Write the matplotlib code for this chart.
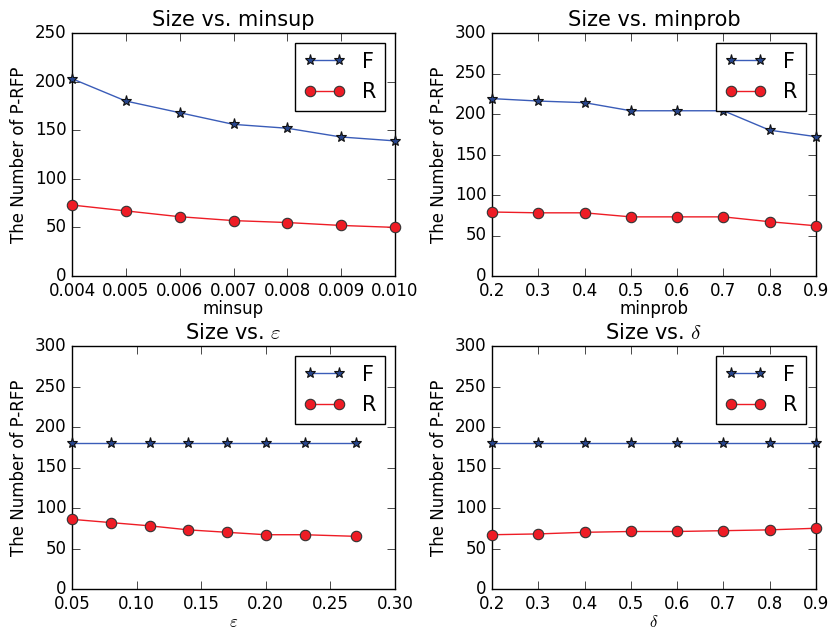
import matplotlib
matplotlib.use("Agg")
import matplotlib.pyplot as plt
import matplotlib.ticker as mticker

plt.style.use('classic')
plt.rcParams['font.family'] = ['DejaVu Sans']
plt.rcParams['mathtext.fontset'] = 'cm'

# Panel 1: Size vs. minsup
minsup = [0.004, 0.005, 0.006, 0.007, 0.008, 0.009, 0.010]
minsup_F = [203, 180, 168, 156, 152, 143, 139]
minsup_R = [73, 67, 61, 57, 55, 52, 50]

# Panel 2: Size vs. minprob
minprob = [0.2, 0.3, 0.4, 0.5, 0.6, 0.7, 0.8, 0.9]
minprob_F = [219, 216, 214, 204, 204, 204, 180, 172]
minprob_R = [79, 78, 78, 73, 73, 73, 67, 62]

# Panel 3: Size vs. epsilon
eps = [0.05, 0.08, 0.11, 0.14, 0.17, 0.20, 0.23, 0.27]
eps_F = [180, 180, 180, 180, 180, 180, 180, 180]
eps_R = [86, 82, 78, 73, 70, 67, 67, 65]

# Panel 4: Size vs. delta
delta = [0.2, 0.3, 0.4, 0.5, 0.6, 0.7, 0.8, 0.9]
delta_F = [180, 180, 180, 180, 180, 180, 180, 180]
delta_R = [67, 68, 70, 71, 71, 72, 73, 75]

panels = [
    dict(x=minsup, F=minsup_F, R=minsup_R, title='Size vs. minsup', xlabel='minsup',
         xlim=(0.004, 0.010), ylim=(0, 250), xfmt='%.3f'),
    dict(x=minprob, F=minprob_F, R=minprob_R, title='Size vs. minprob', xlabel='minprob',
         xlim=(0.2, 0.9), ylim=(0, 300), xfmt='%.1f'),
    dict(x=eps, F=eps_F, R=eps_R, title=r'Size vs. $\varepsilon$', xlabel=r'$\varepsilon$',
         xlim=(0.05, 0.30), ylim=(0, 300), xfmt='%.2f'),
    dict(x=delta, F=delta_F, R=delta_R, title=r'Size vs. $\delta$', xlabel=r'$\delta$',
         xlim=(0.2, 0.9), ylim=(0, 300), xfmt='%.1f'),
]

W, H = 832, 630
fig = plt.figure(figsize=(W / 100, H / 100), dpi=100, facecolor='white')

boxes = [(72, 33, 395, 276), (492, 33, 816, 276), (72, 346, 395, 589), (492, 346, 816, 589)]

for p, (x0, y0, x1, y1) in zip(panels, boxes):
    ax = fig.add_axes([x0 / W, 1 - y1 / H, (x1 - x0) / W, (y1 - y0) / H])
    ax.plot(p['x'], p['F'], '-', color='#3a5cb8', lw=1.0, marker='*', ms=8,
            mfc='#27458c', mec='#111111', mew=0.8, label='F', clip_on=False, zorder=3)
    ax.plot(p['x'], p['R'], '-', color='#ee1c25', lw=1.0, marker='o', ms=7.5,
            mfc='#ee1c25', mec='#333333', mew=0.8, label='R', clip_on=False, zorder=3)
    ax.set_xlim(*p['xlim'])
    ax.set_ylim(*p['ylim'])
    ax.xaxis.set_major_formatter(mticker.FormatStrFormatter(p['xfmt']))
    ax.tick_params(labelsize=12, direction='in', length=6)
    ax.set_title(p['title'], fontsize=15)
    ax.set_xlabel(p['xlabel'], fontsize=12, labelpad=0)
    ax.set_ylabel('The Number of P-RFP', fontsize=12)
    leg = ax.legend(loc='upper right', numpoints=2, fontsize=15, handlelength=2.0,
                    borderpad=0.4, labelspacing=0.5, fancybox=False)
    leg.get_frame().set_linewidth(1.0)
    leg.get_frame().set_edgecolor('black')

fig.savefig('out.png', dpi=100, facecolor='white')
